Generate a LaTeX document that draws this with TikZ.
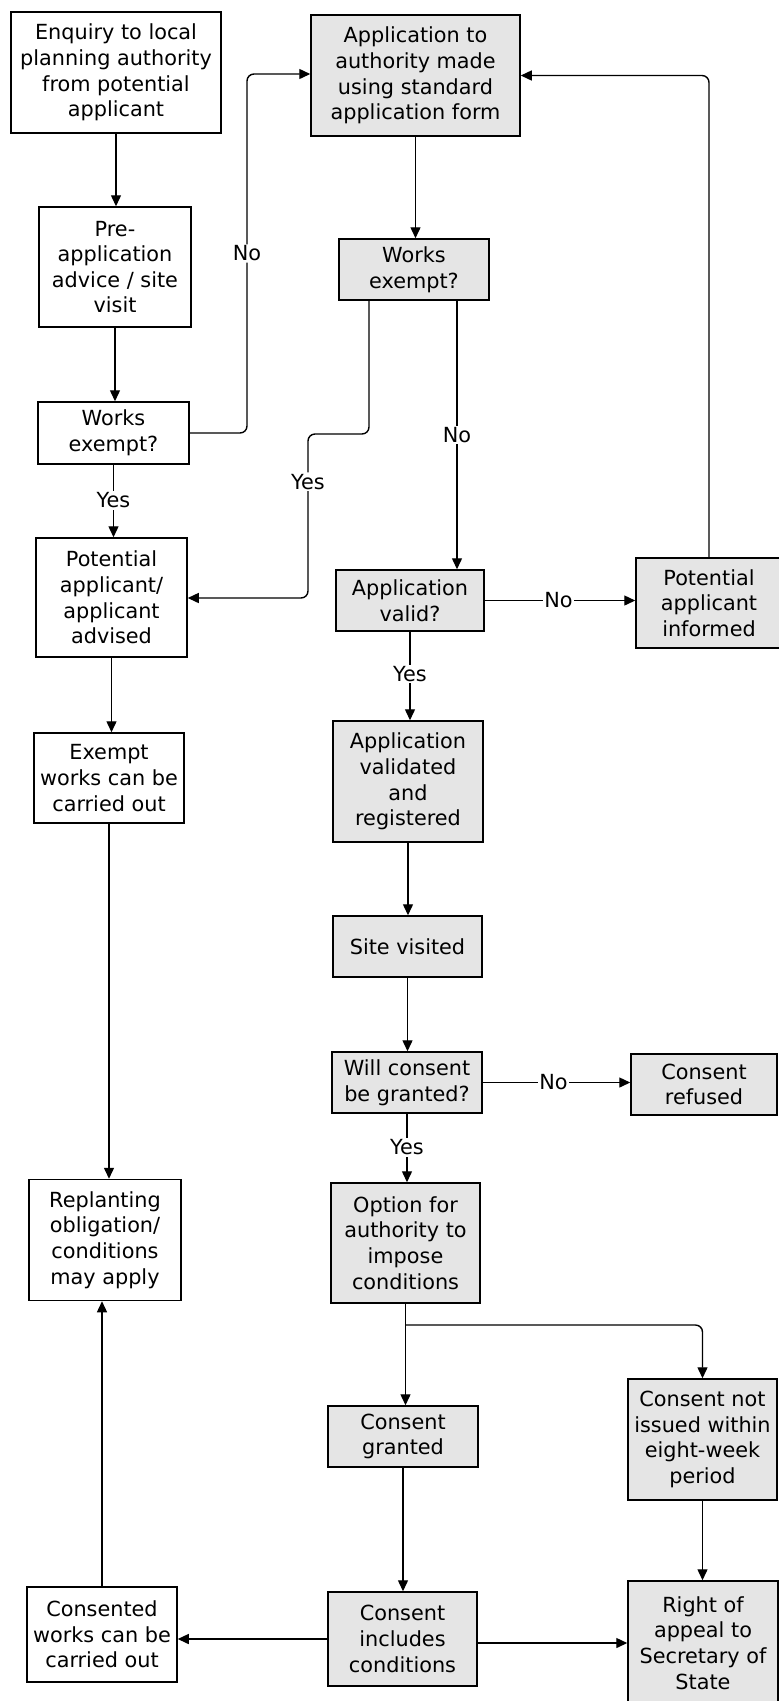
\documentclass[tikz,border=0pt]{standalone}
\usepackage{fontspec}
\setmainfont{DejaVu Sans}
\usetikzlibrary{arrows.meta}
\begin{document}
\begin{tikzpicture}[x=1pt,y=-1pt,
  box/.style={draw=black, line width=1.5pt, align=center, inner sep=0pt, font=\fontsize{20.8}{25.6}\selectfont},
  wbox/.style={box, fill=white},
  gbox/.style={box, fill=gray!20},
  bs/.style 2 args={minimum width=#1, minimum height=#2},
  arr/.style={line width=1.4pt, -{Triangle[length=11pt,width=10pt]}},
  lbl/.style={fill=white, inner sep=1.5pt, font=\fontsize{20.8}{24}\selectfont}
]
\useasboundingbox (0,0) rectangle (779,1701);
\clip (0,0) rectangle (779,1701);
\fill[white] (0,0) rectangle (779,1701);

% left column
\node[wbox, bs={210pt}{121pt}] (enq) at (116,72.5) {Enquiry to local\\planning authority\\from potential\\applicant};
\node[wbox, bs={152pt}{120pt}] (pre) at (115,267) {Pre-\\application\\advice / site\\visit};
\node[wbox, bs={151pt}{62pt}] (wx1) at (113.5,433) {Works\\exempt?};
\node[wbox, bs={151pt}{119pt}] (adv) at (111.5,597.5) {Potential\\applicant/\\applicant\\advised};
\node[wbox, bs={150pt}{90pt}] (exw) at (109,778) {Exempt\\works can be\\carried out};
\node[wbox, bs={152pt}{121pt}] (repl) at (105,1240) {Replanting\\obligation/\\conditions\\may apply};
\node[wbox, bs={150pt}{95pt}] (cwk) at (102,1634.5) {Consented\\works can be\\carried out};

% middle column
\node[gbox, bs={209pt}{121pt}] (app) at (415.5,75.5) {Application to\\authority made\\using standard\\application form};
\node[gbox, bs={150pt}{61pt}] (wx2) at (414,269.5) {Works\\exempt?};
\node[gbox, bs={148pt}{61pt}] (valid) at (410,600.5) {Application\\valid?};
\node[gbox, bs={150pt}{121pt}] (vreg) at (408,781.5) {Application\\validated\\and\\registered};
\node[gbox, bs={149pt}{61pt}] (site) at (407.5,946.5) {Site visited};
\node[gbox, bs={150pt}{61pt}] (will) at (407,1082.5) {Will consent\\be granted?};
\node[gbox, bs={149pt}{120pt}] (opt) at (405.5,1243) {Option for\\authority to\\impose\\conditions};
\node[gbox, bs={150pt}{61pt}] (cgr) at (403,1436.5) {Consent\\granted};
\node[gbox, bs={149pt}{94pt}] (cinc) at (402.5,1639) {Consent\\includes\\conditions};

% right column
\node[gbox, bs={146pt}{90pt}] (inf) at (709,603) {Potential\\applicant\\informed};
\node[gbox, bs={146pt}{61pt}] (ref) at (704,1084.5) {Consent\\refused};
\node[gbox, bs={149pt}{121pt}] (cni) at (702.5,1439.5) {Consent not\\issued within\\eight-week\\period};
\node[gbox, bs={150pt}{124pt}] (rap) at (703,1643) {Right of\\appeal to\\Secretary of\\State};

% helper coordinates
\coordinate (na) at (247,433);
\coordinate (nb) at (247,74);
\coordinate (ya) at (308,434);
\coordinate (yb) at (308,598);
\coordinate (br) at (406,1325);

% connectors
\draw[arr] (enq.south) -- (enq.south |- pre.north);
\draw[arr] (pre.south) -- (pre.south |- wx1.north);
\draw[arr, rounded corners=7pt] (wx1.east) -- (na) -- node[lbl, pos=0.5] {No} (nb) -- (nb -| app.west);
\draw[arr] (wx1.south) -- node[lbl, pos=0.49] {Yes} (wx1.south |- adv.north);
\draw[arr] (adv.south) -- (adv.south |- exw.north);
\draw[arr] (exw.south) -- (exw.south |- repl.north);
\draw[arr] (cwk.north) -- (cwk.north |- repl.south);

\draw[arr] (app.south) -- (app.south |- wx2.north);
\draw[arr, rounded corners=7pt] ([xshift=-45pt]wx2.south) |- (ya) -- node[lbl, pos=0.29] {Yes} (yb) -- (yb -| adv.east);
\draw[arr] ([xshift=43pt]wx2.south) -- node[lbl, pos=0.5] {No} ([xshift=43pt]wx2.south |- valid.north);
\draw[arr] (valid.east) -- node[lbl, pos=0.49] {No} (valid.east -| inf.west);
\draw[arr, rounded corners=7pt] (inf.north) |- (app.east);
\draw[arr] (valid.south) -- node[lbl, pos=0.48] {Yes} (valid.south |- vreg.north);
\draw[arr] (vreg.south) -- (vreg.south |- site.north);
\draw[arr] (site.south) -- (site.south |- will.north);
\draw[arr] (will.east) -- node[lbl, pos=0.48] {No} (will.east -| ref.west);
\draw[arr] (will.south) -- node[lbl, pos=0.49] {Yes} (will.south |- opt.north);
\draw[arr] (opt.south) -- (opt.south |- cgr.north);
\draw[arr, rounded corners=7pt] (br) -| (cni.north);
\draw[arr] (cgr.south) -- (cgr.south |- cinc.north);
\draw[arr] (cni.south) -- (cni.south |- rap.north);
\draw[arr] (cinc.west) -- (cinc.west -| cwk.east);
\draw[arr] ([yshift=-4pt]cinc.east) -- ([yshift=-4pt]cinc.east -| rap.west);
\end{tikzpicture}
\end{document}
